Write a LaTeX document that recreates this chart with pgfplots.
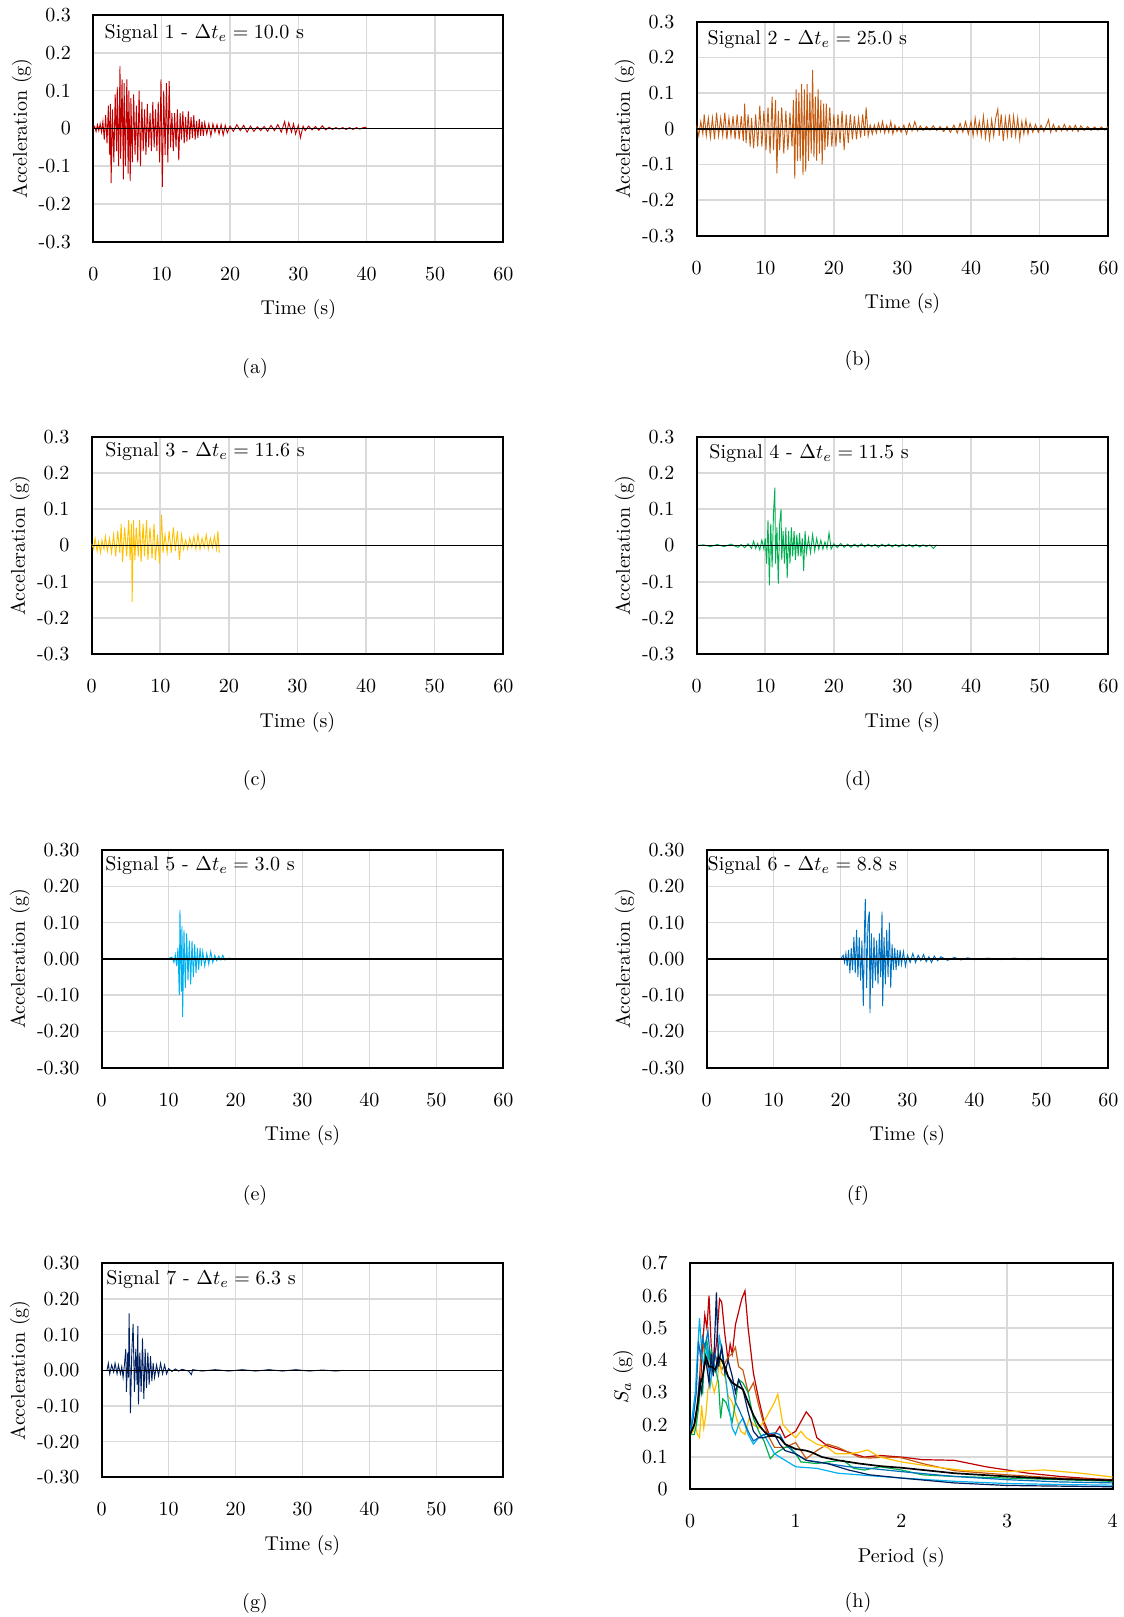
\documentclass[border=0pt]{standalone}
\usepackage{pgfplots}
\pgfplotsset{compat=1.18}
\definecolor{cA}{HTML}{C00000}
\definecolor{cB}{HTML}{C55A11}
\definecolor{cC}{HTML}{FFC000}
\definecolor{cD}{HTML}{00B050}
\definecolor{cE}{HTML}{00B0F0}
\definecolor{cF}{HTML}{0070C0}
\definecolor{cG}{HTML}{002060}
\definecolor{gridgray}{HTML}{D9D9D9}
\pgfplotsset{
  base/.style={scale only axis, grid=major,
    major grid style={line width=0.8pt, draw=gridgray},
    major tick length=0pt,
    axis line style={line width=0.95pt, black},
    xticklabel style={anchor=center, yshift=-16pt},
    yticklabel style={anchor=east, inner sep=0pt, xshift=-11pt},
    xlabel style={at={(axis description cs:0.5,0)}, anchor=center, yshift=-34pt},
    every axis plot/.append style={mark=none}},
  sig/.style={base, xmin=0, xmax=60, ymin=-0.3, ymax=0.3,
    xtick={0,10,20,30,40,50,60},
    ytick={-0.3,-0.2,-0.1,0,0.1,0.2,0.3},
    xlabel={Time (s)}, ylabel={Acceleration (g)}},
  one/.style={yticklabels={-0.3,-0.2,-0.1,0,0.1,0.2,0.3}},
  two/.style={yticklabels={-0.30,-0.20,-0.10,0.00,0.10,0.20,0.30}},
  trace/.style={line width=0.45pt},
}
\newcommand{\zeroline}{\addplot[black, line width=0.85pt, forget plot] coordinates {(0,0) (60,0)};}
\begin{document}
\begin{tikzpicture}
\path[use as bounding box] (0,0) rectangle (562pt,-808.5pt);

% (a)
\begin{axis}[sig, one, width=205pt, height=113.3pt, at={(46.67pt,-120.83pt)}, anchor=south west,
  ylabel style={at={(axis description cs:-0.1746,0.5)}, anchor=center}]
\addplot[trace, cA] coordinates {(0,0) (0.2,0.005) (0.4,-0.008) (0.6,0.01) (0.8,-0.006) (1.0,0.012) (1.2,-0.01) (1.4,0.018) (1.6,-0.03) (1.8,0.035) (2.0,-0.04) (2.2,0.06) (2.4,-0.07) (2.5,0.065) (2.6,-0.145) (2.8,0.05) (3.0,-0.09) (3.2,0.09) (3.4,-0.06) (3.5,0.11) (3.7,-0.10) (3.9,0.165) (4.0,-0.08) (4.2,0.13) (4.4,-0.135) (4.5,0.12) (4.7,-0.10) (4.9,0.13) (5.1,-0.12) (5.2,0.10) (5.4,-0.14) (5.5,0.08) (5.7,-0.09) (5.9,0.09) (6.1,-0.07) (6.3,0.06) (6.5,-0.09) (6.7,0.10) (6.9,-0.10) (7.1,0.07) (7.3,-0.06) (7.5,0.05) (7.7,-0.07) (7.9,0.065) (8.1,-0.05) (8.3,0.04) (8.5,-0.06) (8.7,0.07) (8.9,-0.05) (9.1,0.05) (9.3,-0.06) (9.5,0.07) (9.7,-0.09) (9.9,0.13) (10.1,-0.155) (10.3,0.10) (10.5,-0.07) (10.7,0.12) (10.9,-0.09) (11.1,0.125) (11.3,-0.05) (11.5,0.04) (11.7,-0.06) (11.9,0.04) (12.1,-0.05) (12.3,0.05) (12.5,-0.085) (12.7,0.04) (12.9,-0.03) (13.1,0.045) (13.3,-0.04) (13.5,0.03) (13.7,-0.035) (13.9,0.045) (14.1,-0.03) (14.3,0.03) (14.5,-0.025) (14.7,0.035) (14.9,-0.03) (15.1,0.02) (15.3,-0.025) (15.5,0.025) (15.7,-0.02) (15.9,0.018) (16.1,-0.02) (16.3,0.015) (16.6,-0.015) (16.9,0.012) (17.2,-0.02) (17.5,0.012) (17.8,-0.01) (18.1,0.01) (18.4,-0.015) (18.7,0.01) (19.0,-0.018) (19.3,0.008) (19.6,-0.012) (20,0.006) (20.5,-0.008) (21,0.01) (21.5,-0.006) (22,0.008) (22.5,-0.01) (23,0.006) (23.5,-0.008) (24,0.004) (24.5,-0.006) (25,0.005) (25.5,-0.008) (26,0.008) (26.5,-0.006) (27,0.01) (27.5,-0.01) (28,0.018) (28.3,-0.012) (28.6,0.015) (29,-0.01) (29.3,0.012) (29.6,-0.015) (30,0.008) (30.3,-0.025) (30.7,0.006) (31,-0.006) (31.5,0.006) (32,-0.004) (32.5,0.005) (33,-0.005) (33.5,0.007) (34,-0.004) (34.5,0.003) (35,-0.003) (35.5,0.002) (36,-0.002) (36.5,0.002) (37,-0.003) (37.5,0.002) (38,-0.003) (38.5,0.002) (39,-0.002) (39.5,0.002) (40,0.003)};
\zeroline
\node[anchor=west, inner sep=0pt, xshift=5.5pt, yshift=-9.2pt] at (rel axis cs:0,1) {Signal 1 - $\Delta t_e = 10.0$ s};
\end{axis}

% (b)
\begin{axis}[sig, one, width=205.8pt, height=107pt, at={(348.33pt,-117.85pt)}, anchor=south west,
  ylabel style={at={(axis description cs:-0.1742,0.5)}, anchor=center}]
\addplot[trace, cB] coordinates {(0,0.01) (0.3,-0.02) (0.6,0.02) (0.9,-0.015) (1.1,0.04) (1.4,-0.02) (1.7,0.03) (2.0,-0.025) (2.3,0.03) (2.6,-0.03) (2.9,0.045) (3.2,-0.02) (3.5,0.03) (3.8,-0.02) (4.1,0.045) (4.4,-0.03) (4.7,0.03) (5.0,-0.02) (5.3,0.035) (5.6,-0.03) (5.9,0.04) (6.2,-0.03) (6.5,0.035) (6.8,-0.035) (7.0,0.07) (7.2,-0.04) (7.5,0.04) (7.8,-0.05) (8.0,0.03) (8.3,-0.055) (8.6,0.04) (8.9,-0.05) (9.2,0.065) (9.5,-0.05) (9.8,0.05) (10.1,-0.06) (10.4,0.06) (10.7,-0.07) (11.0,0.09) (11.2,-0.06) (11.5,0.08) (11.7,-0.125) (11.9,0.05) (12.1,-0.06) (12.4,0.06) (12.7,-0.07) (13.0,0.05) (13.3,-0.06) (13.6,0.045) (13.9,-0.05) (14.1,0.08) (14.3,-0.14) (14.5,0.11) (14.7,-0.09) (14.9,0.10) (15.1,-0.09) (15.3,0.125) (15.5,-0.13) (15.7,0.11) (15.9,-0.12) (16.1,0.125) (16.3,-0.09) (16.5,0.10) (16.7,-0.07) (16.9,0.165) (17.1,-0.08) (17.3,0.09) (17.5,-0.09) (17.7,0.11) (17.9,-0.07) (18.1,0.08) (18.3,-0.10) (18.5,0.07) (18.7,-0.06) (18.9,0.07) (19.1,-0.05) (19.4,0.06) (19.7,-0.05) (20.0,0.04) (20.3,-0.05) (20.6,0.04) (20.9,-0.04) (21.2,0.05) (21.5,-0.06) (21.8,0.04) (22.1,-0.04) (22.4,0.04) (22.7,-0.03) (23.0,0.035) (23.3,-0.03) (23.6,0.03) (23.9,-0.025) (24.2,0.04) (24.5,-0.02) (24.7,0.06) (25.0,-0.02) (25.3,0.01) (25.6,-0.015) (25.9,0.01) (26.2,-0.012) (26.5,0.015) (26.8,-0.008) (27.1,0.02) (27.4,-0.012) (27.7,0.01) (28.0,-0.01) (28.3,0.02) (28.6,-0.015) (28.9,0.01) (29.2,-0.008) (29.5,0.005) (29.8,-0.01) (30.2,0.01) (30.6,-0.015) (31.0,0.015) (31.4,-0.006) (31.8,0.02) (32.2,-0.006) (32.6,0.008) (33.0,-0.005) (33.5,0.006) (34.0,-0.004) (34.5,0.008) (35.0,-0.005) (35.5,0.006) (36.0,-0.008) (36.5,0.006) (37.0,-0.01) (37.5,0.01) (38.0,-0.012) (38.4,0.015) (38.8,-0.01) (39.2,0.02) (39.6,-0.015) (40.0,0.02) (40.3,-0.02) (40.6,0.03) (40.9,-0.015) (41.2,0.02) (41.5,-0.02) (41.8,0.035) (42.1,-0.025) (42.4,0.02) (42.7,-0.03) (43.0,0.025) (43.3,-0.02) (43.6,0.03) (43.9,0.055) (44.1,-0.02) (44.4,0.04) (44.7,-0.035) (45.0,0.03) (45.3,-0.02) (45.6,0.04) (45.9,-0.025) (46.2,0.035) (46.5,-0.02) (46.8,0.03) (47.1,-0.03) (47.4,0.02) (47.7,-0.015) (48.0,0.025) (48.3,-0.015) (48.6,0.015) (49.0,-0.01) (49.4,0.012) (49.8,-0.01) (50.2,0.01) (50.6,-0.008) (51.0,0.01) (51.3,0.025) (51.6,-0.01) (52.0,0.012) (52.4,-0.008) (52.8,0.008) (53.2,-0.006) (53.6,0.012) (54.0,-0.006) (54.4,0.008) (54.8,-0.006) (55.2,0.01) (55.6,-0.008) (56.0,0.008) (56.5,-0.005) (57.0,0.006) (57.5,-0.005) (58.0,0.005) (58.5,-0.004) (59.0,0.005) (59.5,-0.004) (60.0,0.006)};
\zeroline
\node[anchor=west, inner sep=0pt, xshift=5.3pt, yshift=-8.8pt] at (rel axis cs:0,1) {Signal 2 - $\Delta t_e = 25.0$ s};
\end{axis}

% (c)
\begin{axis}[sig, one, width=205.8pt, height=108.8pt, at={(45.83pt,-327.17pt)}, anchor=south west,
  ylabel style={at={(axis description cs:-0.1742,0.5)}, anchor=center}]
\addplot[trace, cC] coordinates {(0,0.005) (0.3,-0.01) (0.5,0.02) (0.8,-0.015) (1.0,0.01) (1.3,-0.02) (1.5,0.015) (1.8,-0.01) (2.0,0.025) (2.3,-0.015) (2.6,0.02) (2.9,-0.02) (3.2,0.03) (3.5,-0.03) (3.8,0.04) (4.1,-0.02) (4.3,0.06) (4.5,-0.045) (4.8,0.05) (5.1,-0.03) (5.4,0.07) (5.6,-0.04) (5.8,0.06) (5.9,-0.155) (6.1,0.07) (6.3,-0.04) (6.5,0.05) (6.8,-0.03) (7.0,0.07) (7.2,-0.045) (7.5,0.06) (7.7,-0.03) (8.0,0.07) (8.2,-0.04) (8.5,0.05) (8.8,-0.035) (9.1,0.06) (9.3,-0.04) (9.6,0.03) (9.9,-0.05) (10.2,0.085) (10.4,-0.02) (10.7,0.03) (11.0,-0.02) (11.3,0.04) (11.6,-0.02) (11.9,0.05) (12.2,-0.015) (12.5,0.04) (12.8,-0.04) (13.1,0.03) (13.4,-0.01) (13.7,0.015) (14.0,-0.01) (14.3,0.02) (14.6,-0.005) (14.9,0.025) (15.2,-0.01) (15.5,0.03) (15.8,-0.01) (16.1,0.02) (16.4,-0.005) (16.7,0.03) (17.0,-0.01) (17.3,0.02) (17.6,-0.005) (17.9,0.025) (18.2,-0.01) (18.4,0.04) (18.6,-0.02)};
\zeroline
\node[anchor=west, inner sep=0pt, xshift=6.7pt, yshift=-7.2pt] at (rel axis cs:0,1) {Signal 3 - $\Delta t_e = 11.6$ s};
\end{axis}

% (d)
\begin{axis}[sig, one, width=205.8pt, height=108.8pt, at={(348.33pt,-327.17pt)}, anchor=south west,
  ylabel style={at={(axis description cs:-0.1742,0.5)}, anchor=center}]
\addplot[trace, cD] coordinates {(0,0) (1,0.002) (2,-0.003) (3,0.003) (4,-0.003) (5,0.004) (6,-0.005) (6.5,0.003) (7,-0.006) (7.5,0.005) (8,-0.008) (8.3,0.012) (8.6,-0.008) (8.9,0.006) (9.2,-0.012) (9.5,0.015) (9.8,-0.01) (10.0,0.02) (10.2,-0.05) (10.4,0.07) (10.6,-0.11) (10.8,0.06) (11.0,-0.06) (11.2,0.09) (11.4,0.16) (11.5,-0.05) (11.7,0.05) (11.9,-0.105) (12.1,0.06) (12.3,0.10) (12.4,-0.04) (12.6,0.04) (12.8,-0.05) (13.0,0.05) (13.2,-0.09) (13.4,0.04) (13.6,-0.05) (13.8,0.05) (14.0,-0.03) (14.2,0.04) (14.4,-0.04) (14.6,0.03) (14.8,-0.03) (15.0,0.035) (15.2,-0.03) (15.4,0.02) (15.6,-0.07) (15.8,0.04) (16.0,-0.02) (16.3,0.02) (16.6,-0.02) (16.9,0.03) (17.2,-0.015) (17.5,0.02) (17.8,-0.01) (18.1,0.015) (18.4,-0.01) (18.7,0.01) (19.0,-0.008) (19.3,0.035) (19.6,-0.01) (20,0.005) (20.5,-0.006) (21,0.006) (21.5,-0.005) (22,0.004) (22.5,-0.005) (23,0.004) (23.5,-0.004) (24,0.005) (24.5,-0.004) (25,0.004) (25.5,-0.003) (26,0.003) (26.5,-0.005) (27,0.004) (27.5,-0.003) (28,0.004) (28.5,-0.004) (29,0.003) (29.5,-0.004) (30,0.004) (30.5,-0.003) (31,0.003) (31.5,-0.004) (32,0.003) (32.5,-0.004) (33,0.002) (33.5,-0.003) (34,0.002) (34.5,-0.008) (35,0.002)};
\zeroline
\node[anchor=west, inner sep=0pt, xshift=6.2pt, yshift=-8.3pt] at (rel axis cs:0,1) {Signal 4 - $\Delta t_e = 11.5$ s};
\end{axis}

% (e)
\begin{axis}[sig, two, width=200.8pt, height=108.8pt, at={(50.83pt,-533.83pt)}, anchor=south west,
  ylabel style={at={(axis description cs:-0.2034,0.5)}, anchor=center}]
\addplot[trace, cE] coordinates {(0,0) (2,0.001) (4,-0.001) (6,0.001) (8,-0.001) (10,0.001) (10.5,0.005) (10.8,-0.01) (11.0,0.012) (11.2,-0.02) (11.4,0.03) (11.6,-0.10) (11.7,0.135) (11.9,-0.09) (12.0,0.09) (12.1,-0.16) (12.3,0.08) (12.5,-0.08) (12.7,0.07) (12.9,-0.06) (13.1,0.05) (13.3,-0.07) (13.5,0.05) (13.7,-0.05) (13.9,0.04) (14.1,-0.04) (14.3,0.03) (14.5,-0.03) (14.7,0.03) (14.9,-0.02) (15.1,0.02) (15.4,-0.02) (15.7,0.015) (16.0,-0.015) (16.3,0.02) (16.6,-0.01) (16.9,0.01) (17.2,-0.005) (17.5,0.008) (17.8,-0.003) (18.1,0.01) (18.4,-0.003) (19,0.002) (20,-0.001) (22,0.001) (25,-0.001) (30,0.001) (35,-0.001) (40,0.001) (45,-0.001) (50,0.001) (52,0)};
\zeroline
\node[anchor=west, inner sep=0pt, xshift=1.7pt, yshift=-7.5pt] at (rel axis cs:0,1) {Signal 5 - $\Delta t_e = 3.0$ s};
\end{axis}

% (f)
\begin{axis}[sig, two, width=200.8pt, height=108.8pt, at={(353.33pt,-533.83pt)}, anchor=south west,
  ylabel style={at={(axis description cs:-0.2034,0.5)}, anchor=center}]
\addplot[trace, cF] coordinates {(0,0) (5,0.001) (10,-0.001) (15,0.001) (20,-0.001) (20.4,0.01) (20.6,-0.01) (20.8,0.015) (21.0,-0.02) (21.2,0.025) (21.4,-0.04) (21.6,0.03) (21.8,-0.03) (22.0,0.06) (22.2,-0.04) (22.4,0.08) (22.6,-0.05) (22.8,0.06) (23.0,-0.06) (23.2,0.05) (23.4,-0.13) (23.6,0.10) (23.7,0.165) (23.9,-0.08) (24.1,0.10) (24.3,0.13) (24.4,-0.15) (24.6,0.07) (24.8,-0.08) (25.0,0.06) (25.2,-0.06) (25.4,0.05) (25.6,-0.07) (25.8,0.07) (26.0,-0.05) (26.2,0.13) (26.3,-0.13) (26.5,0.06) (26.7,-0.07) (26.9,0.08) (27.1,-0.05) (27.3,0.10) (27.5,-0.08) (27.7,0.04) (27.9,-0.03) (28.1,0.03) (28.3,-0.03) (28.5,0.025) (28.7,-0.02) (28.9,0.025) (29.1,-0.015) (29.4,0.02) (29.7,-0.02) (30.0,0.01) (30.4,-0.01) (30.8,0.015) (31.2,-0.01) (31.6,0.01) (32.0,-0.005) (32.4,0.012) (32.8,-0.008) (33.2,0.006) (33.6,-0.01) (34.0,0.008) (34.5,-0.005) (35,0.006) (36,-0.004) (37,0.004) (38,-0.003) (39,0.003) (40,-0.002) (42,0.002) (44,-0.002) (46,0.002) (48,-0.002) (50,0.002) (52,-0.001) (54,0.001) (56,-0.001) (58,0.001) (60,0)};
\zeroline
\node[anchor=west, inner sep=0pt, xshift=0.3pt, yshift=-7.5pt] at (rel axis cs:0,1) {Signal 6 - $\Delta t_e = 8.8$ s};
\end{axis}

% (g)
\begin{axis}[sig, two, width=200.8pt, height=107pt, at={(50.83pt,-738.67pt)}, anchor=south west,
  ylabel style={at={(axis description cs:-0.2034,0.5)}, anchor=center}]
\addplot[trace, cG] coordinates {(0.8,0.0) (1.0,0.02) (1.2,-0.01) (1.5,0.015) (1.8,-0.005) (2.0,0.02) (2.3,-0.01) (2.5,0.015) (2.8,-0.01) (3.0,0.01) (3.2,-0.02) (3.4,0.015) (3.6,0.06) (3.7,-0.06) (3.9,0.05) (4.0,-0.02) (4.1,0.16) (4.3,-0.12) (4.5,0.05) (4.7,0.13) (4.9,-0.06) (5.1,0.06) (5.3,-0.04) (5.4,0.125) (5.5,-0.095) (5.7,0.05) (5.9,-0.06) (6.1,0.09) (6.3,-0.08) (6.5,0.06) (6.7,-0.05) (6.9,0.05) (7.1,-0.04) (7.3,0.04) (7.5,-0.03) (7.7,0.02) (7.9,-0.02) (8.2,0.015) (8.5,-0.015) (8.8,0.02) (9.1,-0.01) (9.4,0.015) (9.7,-0.01) (10.0,0.005) (10.5,-0.003) (11,0.004) (11.5,-0.002) (12,0.003) (13,-0.002) (13.4,-0.012) (13.6,0.002) (15,-0.002) (17,0.002) (19,-0.002) (21,0.002) (23,-0.002) (25,0.002) (27,-0.002) (29,0.002) (31,-0.002) (33,0.001) (35,-0.002) (36,0)};
\zeroline
\node[anchor=west, inner sep=0pt, xshift=2.2pt, yshift=-8pt] at (rel axis cs:0,1) {Signal 7 - $\Delta t_e = 6.3$ s};
\end{axis}

% (h)
\begin{axis}[base, width=211.35pt, height=113pt, at={(345pt,-744.67pt)}, anchor=south west,
  xmin=0, xmax=4, ymin=0, ymax=0.7, xtick={0,1,2,3,4},
  ytick={0,0.1,0.2,0.3,0.4,0.5,0.6,0.7}, yticklabels={0,0.1,0.2,0.3,0.4,0.5,0.6,0.7},
  xlabel={Period (s)}, ylabel={$S_a$ (g)},
  ylabel style={at={(axis description cs:-0.1585,0.5)}, anchor=center},
  every axis plot/.append style={line width=0.6pt}]
\addplot[cA] coordinates {(0,0.17) (0.05,0.2) (0.08,0.28) (0.1,0.33) (0.12,0.45) (0.14,0.54) (0.16,0.5) (0.18,0.6) (0.2,0.45) (0.22,0.38) (0.25,0.45) (0.28,0.59) (0.3,0.58) (0.33,0.48) (0.36,0.40) (0.38,0.45) (0.4,0.42) (0.43,0.51) (0.46,0.55) (0.49,0.59) (0.52,0.615) (0.55,0.5) (0.6,0.36) (0.65,0.28) (0.7,0.21) (0.75,0.17) (0.8,0.17) (0.85,0.195) (0.9,0.16) (0.95,0.17) (1.0,0.18) (1.05,0.21) (1.1,0.24) (1.15,0.22) (1.2,0.16) (1.3,0.135) (1.4,0.125) (1.5,0.115) (1.65,0.10) (1.8,0.105) (2.0,0.10) (2.2,0.092) (2.5,0.09) (2.8,0.07) (3.0,0.06) (3.2,0.05) (3.5,0.04) (3.8,0.033) (4.0,0.03)};
\addplot[cB] coordinates {(0,0.17) (0.05,0.2) (0.08,0.3) (0.1,0.4) (0.12,0.48) (0.14,0.40) (0.16,0.38) (0.18,0.43) (0.2,0.37) (0.23,0.42) (0.26,0.40) (0.3,0.37) (0.33,0.39) (0.36,0.41) (0.4,0.42) (0.43,0.44) (0.46,0.38) (0.5,0.37) (0.55,0.30) (0.6,0.33) (0.65,0.26) (0.7,0.20) (0.75,0.16) (0.8,0.13) (0.85,0.13) (0.9,0.13) (1.0,0.145) (1.05,0.12) (1.1,0.095) (1.2,0.12) (1.3,0.14) (1.4,0.13) (1.5,0.115) (1.6,0.10) (1.7,0.097) (1.85,0.10) (2.0,0.098) (2.2,0.08) (2.5,0.058) (3.0,0.045) (3.5,0.035) (4.0,0.028)};
\addplot[cC] coordinates {(0,0.17) (0.03,0.18) (0.05,0.2) (0.07,0.17) (0.09,0.16) (0.11,0.26) (0.13,0.19) (0.15,0.23) (0.17,0.31) (0.2,0.34) (0.23,0.30) (0.26,0.34) (0.28,0.41) (0.3,0.36) (0.33,0.35) (0.36,0.29) (0.4,0.27) (0.44,0.22) (0.48,0.18) (0.52,0.17) (0.56,0.22) (0.6,0.20) (0.65,0.19) (0.7,0.21) (0.75,0.24) (0.8,0.27) (0.83,0.295) (0.88,0.2) (0.95,0.175) (1.0,0.16) (1.05,0.18) (1.1,0.16) (1.2,0.14) (1.3,0.13) (1.38,0.11) (1.5,0.11) (1.6,0.115) (1.68,0.122) (1.8,0.10) (2.0,0.085) (2.3,0.07) (2.6,0.058) (3.0,0.055) (3.35,0.06) (3.7,0.05) (4.0,0.038)};
\addplot[cD] coordinates {(0,0.17) (0.04,0.17) (0.06,0.2) (0.08,0.25) (0.1,0.32) (0.12,0.30) (0.14,0.43) (0.16,0.46) (0.18,0.40) (0.2,0.43) (0.22,0.37) (0.25,0.36) (0.27,0.33) (0.29,0.22) (0.31,0.28) (0.34,0.27) (0.37,0.24) (0.4,0.21) (0.43,0.27) (0.46,0.34) (0.5,0.33) (0.55,0.3) (0.6,0.22) (0.65,0.18) (0.7,0.15) (0.76,0.095) (0.8,0.11) (0.85,0.12) (0.9,0.13) (0.95,0.13) (1.0,0.11) (1.05,0.085) (1.2,0.08) (1.3,0.085) (1.45,0.09) (1.55,0.065) (1.65,0.06) (1.8,0.07) (2.0,0.06) (2.2,0.045) (2.5,0.04) (3.0,0.035) (3.5,0.03) (4.0,0.025)};
\addplot[cE] coordinates {(0,0.17) (0.03,0.25) (0.05,0.3) (0.07,0.42) (0.09,0.53) (0.11,0.43) (0.13,0.38) (0.16,0.44) (0.19,0.32) (0.22,0.40) (0.25,0.36) (0.28,0.47) (0.31,0.41) (0.34,0.34) (0.37,0.25) (0.4,0.19) (0.43,0.17) (0.46,0.2) (0.5,0.22) (0.55,0.17) (0.6,0.14) (0.65,0.16) (0.7,0.17) (0.75,0.14) (0.8,0.11) (0.9,0.09) (1.0,0.07) (1.2,0.065) (1.4,0.05) (1.6,0.045) (1.8,0.04) (2.0,0.035) (2.5,0.025) (3.0,0.018) (3.5,0.015) (4.0,0.013)};
\addplot[cF] coordinates {(0,0.17) (0.03,0.22) (0.06,0.3) (0.08,0.46) (0.1,0.41) (0.12,0.47) (0.14,0.44) (0.17,0.49) (0.2,0.37) (0.23,0.43) (0.26,0.38) (0.3,0.44) (0.33,0.37) (0.36,0.35) (0.4,0.32) (0.43,0.27) (0.46,0.25) (0.5,0.22) (0.55,0.18) (0.6,0.15) (0.65,0.16) (0.7,0.17) (0.8,0.175) (0.85,0.17) (0.9,0.14) (1.0,0.11) (1.1,0.09) (1.3,0.08) (1.5,0.07) (1.7,0.065) (2.0,0.055) (2.5,0.04) (3.0,0.03) (3.5,0.023) (4.0,0.02)};
\addplot[cG] coordinates {(0,0.17) (0.04,0.2) (0.07,0.26) (0.09,0.34) (0.11,0.30) (0.13,0.38) (0.15,0.40) (0.18,0.33) (0.2,0.42) (0.22,0.35) (0.25,0.61) (0.27,0.38) (0.3,0.44) (0.33,0.36) (0.36,0.40) (0.4,0.35) (0.43,0.30) (0.46,0.34) (0.5,0.31) (0.55,0.24) (0.6,0.18) (0.65,0.16) (0.7,0.16) (0.8,0.17) (0.85,0.14) (0.9,0.12) (1.0,0.11) (1.1,0.09) (1.3,0.08) (1.5,0.06) (1.7,0.045) (2.0,0.035) (2.5,0.02) (3.0,0.012) (3.5,0.01) (4.0,0.008)};
\addplot[black, line width=0.85pt] coordinates {(0,0.17) (0.04,0.2) (0.07,0.26) (0.1,0.33) (0.12,0.35) (0.15,0.41) (0.18,0.38) (0.21,0.38) (0.24,0.37) (0.27,0.41) (0.3,0.40) (0.33,0.38) (0.36,0.35) (0.4,0.33) (0.45,0.32) (0.5,0.31) (0.55,0.27) (0.6,0.23) (0.65,0.20) (0.7,0.18) (0.75,0.165) (0.8,0.165) (0.85,0.16) (0.9,0.14) (1.0,0.125) (1.1,0.12) (1.15,0.115) (1.25,0.10) (1.4,0.09) (1.6,0.08) (1.8,0.072) (2.0,0.067) (2.5,0.05) (3.0,0.04) (3.5,0.032) (4.0,0.028)};
\end{axis}

\node at (127.5pt,-184pt) {(a)};
\node at (429pt,-180pt) {(b)};
\node at (127.5pt,-390pt) {(c)};
\node at (429pt,-390pt) {(d)};
\node at (127.5pt,-597.5pt) {(e)};
\node at (429pt,-597.5pt) {(f)};
\node at (127.5pt,-801.5pt) {(g)};
\node at (429pt,-801pt) {(h)};
\end{tikzpicture}
\end{document}
